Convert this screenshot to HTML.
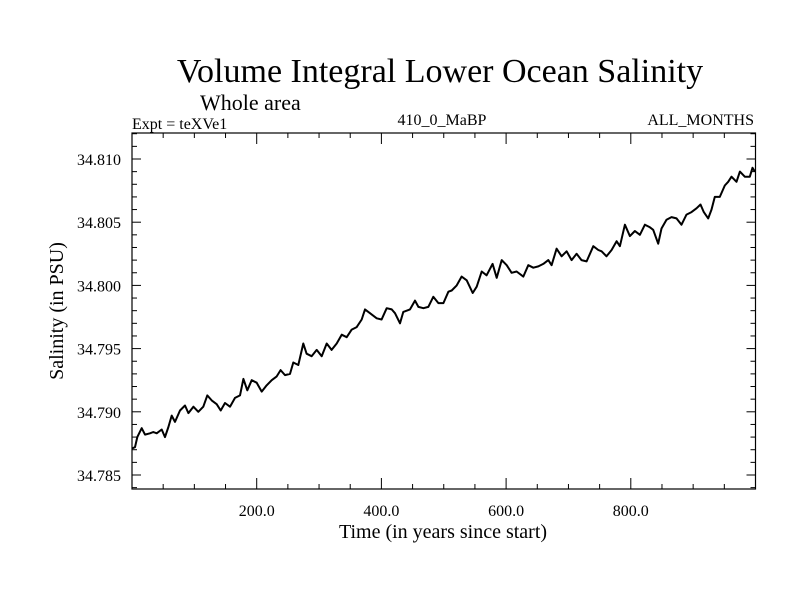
<!DOCTYPE html>
<html><head><meta charset="utf-8"><style>
body{margin:0;background:#fff;}
svg text{font-family:"Liberation Serif",serif;fill:#000;}
</style></head><body>
<svg id="chart" width="800" height="600" xmlns="http://www.w3.org/2000/svg">
<rect width="800" height="600" fill="#fff"/>
<text x="440" y="82" font-size="34" text-anchor="middle">Volume Integral Lower Ocean Salinity</text>
<text x="200" y="110" font-size="22">Whole area</text>
<text x="132" y="129" font-size="16">Expt = teXVe1</text>
<text x="442" y="125" font-size="16" text-anchor="middle">410_0_MaBP</text>
<text x="754" y="125" font-size="16" text-anchor="end">ALL_MONTHS</text>
<text x="443" y="538" font-size="20" text-anchor="middle">Time (in years since start)</text>
<text transform="translate(63,311) rotate(-90)" font-size="20" text-anchor="middle">Salinity (in PSU)</text>
<g id="axes"></g>
<path id="series" fill="none" stroke="#000" stroke-width="2" stroke-linejoin="round"/>
</svg>
<script>
const years=[0,4.8,8.5,15.5,20.9,28.9,34.2,39.6,47.6,52.9,58.3,63.6,69,77,85,90.4,98.4,106.4,114.4,120.8,127.8,135.8,142.2,149.2,157.2,165.2,173.2,178.6,185,192,200,208,216,224,232,238.4,245.4,253.4,258.7,266.8,274.8,280.1,288.1,296.2,304.2,312.2,320.2,328.3,336.3,344.3,352.3,360.4,368.4,373.7,381.7,392.4,400.4,408.5,416.5,421.8,429.9,435.2,445.9,453.9,459.3,467.3,475.3,483.3,491.4,499.4,507.4,512.7,520.7,528.7,536.8,546.4,552.8,560.8,568.8,578.4,584.9,592.9,600.9,608.9,616.9,627.6,635.6,643.6,651.6,659.6,667.7,673,681,689,697,705,713,721,729.1,739.8,747.8,753.1,761.1,769.2,777.2,782.5,790.5,798.5,806.5,814.6,822.6,830.6,835.9,843.9,849.3,857.3,865.3,873.3,881.3,889.3,897.4,905.4,911.8,917.1,924.1,929.4,934.8,942.8,950.8,956.2,961.5,969.5,974.9,982.9,990.9,995.2,999];
const salinity=[34.7871,34.7872,34.7880,34.7887,34.7882,34.7883,34.7884,34.7883,34.7886,34.7880,34.7888,34.7897,34.7892,34.7901,34.7905,34.7899,34.7904,34.7900,34.7904,34.7913,34.7909,34.7906,34.7901,34.7907,34.7904,34.7911,34.7913,34.7926,34.7917,34.7925,34.7923,34.7916,34.7921,34.7925,34.7928,34.7933,34.7929,34.7930,34.7939,34.7937,34.7954,34.7946,34.7944,34.7949,34.7944,34.7954,34.7949,34.7954,34.7961,34.7959,34.7965,34.7967,34.7973,34.7981,34.7978,34.7974,34.7973,34.7982,34.7981,34.7978,34.7970,34.7979,34.7981,34.7988,34.7983,34.7982,34.7983,34.7991,34.7986,34.7986,34.7995,34.7996,34.8000,34.8007,34.8004,34.7994,34.7999,34.8011,34.8008,34.8017,34.8006,34.8020,34.8016,34.8010,34.8011,34.8007,34.8016,34.8014,34.8015,34.8017,34.8020,34.8016,34.8029,34.8023,34.8027,34.8020,34.8025,34.8020,34.8019,34.8031,34.8028,34.8027,34.8023,34.8028,34.8035,34.8031,34.8048,34.8039,34.8043,34.8040,34.8048,34.8046,34.8044,34.8033,34.8045,34.8052,34.8054,34.8053,34.8048,34.8056,34.8058,34.8061,34.8064,34.8058,34.8053,34.8060,34.8070,34.8070,34.8079,34.8082,34.8086,34.8082,34.8090,34.8086,34.8086,34.8093,34.8090];
const yTicks=[34.785,34.790,34.795,34.800,34.805,34.810];
const yTickLabels=["34.785","34.790","34.795","34.800","34.805","34.810"];
const xTicks=[200,400,600,800];
const xTickLabels=["200.0","400.0","600.0","800.0"];
const X0=132,X1=755.5,Y0=133,Y1=489;
const xMin=0,xMax=1000;
const yOf=v=>159+(34.810-v)*12640;
const xOf=t=>X0+(t-xMin)/(xMax-xMin)*(X1-X0);
const NS="http://www.w3.org/2000/svg";
const g=document.getElementById('axes');
function ln(x1,y1,x2,y2,name){const l=document.createElementNS(NS,'line');
l.setAttribute('x1',x1);l.setAttribute('y1',y1);l.setAttribute('x2',x2);l.setAttribute('y2',y2);
l.setAttribute('stroke','#000');l.setAttribute('stroke-width','1');


g.appendChild(l);}
const fr=document.createElementNS(NS,'rect');
fr.setAttribute('x',X0);fr.setAttribute('y',Y0);fr.setAttribute('width',X1-X0);fr.setAttribute('height',Y1-Y0);
fr.setAttribute('fill','none');fr.setAttribute('stroke','#000');fr.setAttribute('stroke-width','1.2');


g.appendChild(fr);
for(let v=34.784;v<=34.8125;v+=0.001){const y=yOf(v);if(y<Y0||y>Y1)continue;
 const major=Math.abs(Math.round(v*1e4)%50)<1e-6;const L=major?9:5;
 ln(X0,y,X0+L,y,'y-tick');ln(X1,y,X1-L,y,'y-tick-right');}
for(let t=50;t<xMax;t+=50){const x=xOf(t);const L=(t%200===0)?11:5;
 ln(x,Y1,x,Y1-L,'x-tick');ln(x,Y0,x,Y0+L,'x-tick-top');}
yTicks.forEach((v,i)=>{const t=document.createElementNS(NS,'text');
 t.setAttribute('x',X0-11);t.setAttribute('y',yOf(v)+6);t.setAttribute('font-size','16');t.setAttribute('text-anchor','end');
 t.textContent=yTickLabels[i];
 
 
 g.appendChild(t);});
xTicks.forEach((v,i)=>{const t=document.createElementNS(NS,'text');
 t.setAttribute('x',xOf(v));t.setAttribute('y',Y1+27);t.setAttribute('font-size','16');t.setAttribute('text-anchor','middle');
 t.textContent=xTickLabels[i];
 
 
 g.appendChild(t);});
let d='';years.forEach((t,i)=>{d+=(i?'L':'M')+xOf(t).toFixed(1)+' '+yOf(salinity[i]).toFixed(1);});
document.getElementById('series').setAttribute('d',d);
</script>
</body></html>
